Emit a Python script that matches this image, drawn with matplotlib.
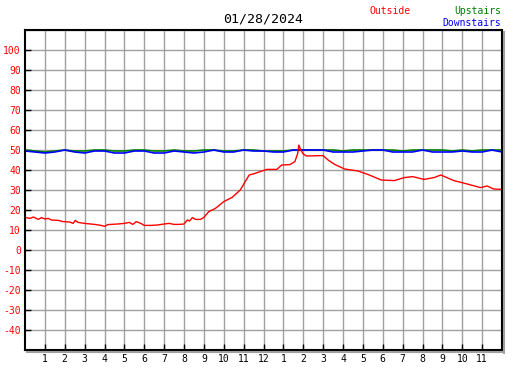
import matplotlib
matplotlib.use('Agg')
import matplotlib.pyplot as plt
from matplotlib.lines import Line2D

title = '01/28/2024'

# outside temperature, (hour, value)
out_hours = [0, 0.25, 0.42, 0.67, 0.83, 1.0, 1.17, 1.33, 1.67, 1.92, 2.25, 2.42,
             2.53, 2.67, 3.0, 3.5, 3.83, 4.0, 4.17, 4.67, 5.0, 5.25, 5.42, 5.6,
             5.83, 6.0, 6.33, 6.67, 7.0, 7.25, 7.5, 7.75, 8.0, 8.17, 8.28, 8.42,
             8.58, 8.83, 9.0, 9.25, 9.58, 10.0, 10.42, 10.83, 11.08, 11.28,
             11.58, 11.83, 12.17, 12.67, 12.92, 13.33, 13.58, 13.72, 13.78,
             13.88, 14.0, 14.17, 15.0, 15.25, 15.58, 16.08, 16.75, 17.25, 17.92,
             18.58, 19.08, 19.5, 20.08, 20.58, 20.92, 21.58, 22.25, 22.92, 23.25,
             23.58, 24.0]
outside = [16.3, 15.8, 16.5, 15.3, 16.2, 15.5, 15.8, 15.0, 14.8, 14.2, 14.0,
           13.3, 14.8, 13.8, 13.3, 12.8, 12.3, 11.8, 12.7, 13.0, 13.3, 13.8,
           12.8, 14.2, 13.3, 12.3, 12.3, 12.5, 13.0, 13.3, 12.8, 12.8, 13.0,
           15.0, 14.5, 16.2, 15.3, 15.3, 16.3, 19.2, 20.8, 24.2, 26.3, 30.0,
           34.2, 37.5, 38.3, 39.2, 40.3, 40.3, 42.5, 42.7, 44.2, 48.3, 52.5,
           50.0, 48.0, 47.0, 47.2, 45.0, 42.8, 40.5, 39.5, 37.8, 35.0, 34.7,
           36.2, 36.7, 35.3, 36.2, 37.5, 34.7, 33.0, 31.2, 32.0, 30.5, 30.3]

in_hours = [i * 0.5 for i in range(49)]
upstairs = [50, 49.5, 49, 49.5, 50, 49.5, 49.5, 50, 50, 49.5, 49.5, 50, 50,
            49.5, 49.5, 50, 49.5, 49.5, 50, 50, 49.5, 49.5, 50, 50, 49.5, 49.5,
            49.5, 50, 50, 50, 50, 50, 49.5, 50, 50, 50, 50, 50, 49.5, 50, 50,
            50, 50, 49.5, 50, 49.5, 50, 50, 50]
downstairs = [49.5, 49, 48.5, 49, 50, 49, 48.5, 49.5, 49.5, 48.5, 48.5, 49.5,
              49.5, 48.5, 48.5, 49.5, 49, 48.5, 49, 50, 49, 49, 50, 49.5, 49.5,
              49, 49, 50, 50, 50, 50, 49, 49, 49, 49.5, 50, 50, 49, 49, 49, 50,
              49, 49, 49, 49.5, 49, 49, 50, 49]

hour_labels = ['1', '2', '3', '4', '5', '6', '7', '8', '9', '10', '11', '12',
               '1', '2', '3', '4', '5', '6', '7', '8', '9', '10', '11']
y_ticks = list(range(-40, 101, 10))

plt.rcParams['font.family'] = 'DejaVu Sans Mono'

W, H = 527, 370
fig = plt.figure(figsize=(W / 100, H / 100), dpi=100)
ax = fig.add_axes([25 / W, 20 / H, 477 / W, 320 / H])

ax.plot(in_hours, upstairs, color='#008000', lw=1.2)
ax.plot(in_hours, downstairs, color='#0000ff', lw=1.2)
ax.plot(out_hours, outside, color='#ff0000', lw=1)

ax.set_xlim(0, 24)
ax.set_ylim(-50, 110)
ax.set_xticks(range(1, 24))
ax.set_xticklabels(hour_labels, fontsize=7)
ax.set_yticks(y_ticks)
ax.set_yticklabels([str(v) for v in y_ticks], fontsize=7, color='#ff0000')
ax.set_yticks([-50, 110], minor=True)
ax.tick_params(direction='in', length=4, width=1, pad=3)
ax.tick_params(which='minor', length=0)
ax.grid(True, which='both', color='#a0a0a0', lw=1)
ax.set_axisbelow(True)
for s in ax.spines.values():
    s.set_linewidth(1.5)

# drop shadow on right/bottom
fig.add_artist(Line2D([503.5 / W, 503.5 / W], [17.5 / H, 338 / H], color='#a0a0a0', lw=1.5))
fig.add_artist(Line2D([27 / W, 504 / W], [18.5 / H, 18.5 / H], color='#a0a0a0', lw=1.5))

fig.text(263 / W, 1 - 19 / H, title, ha='center', va='center', fontsize=9.5)
fig.text(390 / W, 1 - 11 / H, 'Outside', ha='center', va='center', fontsize=7, color='#ff0000')
fig.text(501 / W, 1 - 11 / H, 'Upstairs', ha='right', va='center', fontsize=7, color='#008000')
fig.text(501 / W, 1 - 23 / H, 'Downstairs', ha='right', va='center', fontsize=7, color='#0000ff')

fig.savefig('out.png', dpi=100)
